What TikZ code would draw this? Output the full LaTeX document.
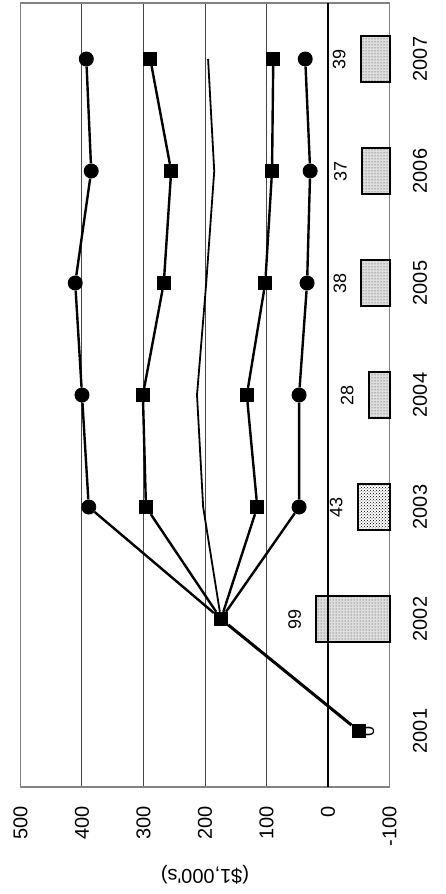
\documentclass[tikz,border=0pt]{standalone}
\usepackage{fontspec}
\setmainfont{Liberation Sans}
\usepackage{tikz}
\usetikzlibrary{patterns}
\definecolor{framegray}{RGB}{130,130,130}
\definecolor{gridgray}{RGB}{70,70,70}
\definecolor{barfill}{RGB}{222,222,222}
\tikzstyle{dotmark} = [circle, fill=black, inner sep=0pt, minimum size=15pt]
\tikzstyle{boxmark} = [rectangle, fill=black, inner sep=0pt, minimum size=14pt]
\tikzstyle{series} = [line width=2.4pt]
\tikzstyle{gridline} = [line width=1pt, draw=gridgray]
\tikzstyle{bar} = [draw=black, line width=2pt, preaction={fill=barfill}, pattern=dots, pattern color=black!80]
\tikzstyle{bar2} = [draw=black, line width=2pt, preaction={fill=white}, pattern=crosshatch dots, pattern color=black]
\tikzstyle{yearlabel} = [rotate=90, inner sep=0pt, font=\fontsize{20}{24}\selectfont]
\tikzstyle{ticklabel} = [rotate=90, anchor=east, inner sep=0pt, font=\fontsize{20}{24}\selectfont]
\tikzstyle{barlabel} = [rotate=90, anchor=south, inner sep=0pt, font=\fontsize{18}{22}\selectfont]
\newcommand{\vx}[1]{328-0.615*#1}
\newcommand{\bx}[1]{389.5-0.74*#1}

\begin{document}
\begin{tikzpicture}[x=1pt,y=-1pt]
\useasboundingbox (0,0) rectangle (446,894);
% grid and frame
\draw[gridline] ({\vx{400}},3) -- ({\vx{400}},787);
\draw[gridline] ({\vx{300}},3) -- ({\vx{300}},787);
\draw[gridline] ({\vx{200}},3) -- ({\vx{200}},787);
\draw[gridline] ({\vx{100}},3) -- ({\vx{100}},787);
\draw[line width=1.5pt, framegray] (20.5,3) rectangle (389.5,787);

% bars
\draw[bar] ({\bx{99}},596) rectangle (389.5,642);
\draw[bar2] ({\bx{43}},484) rectangle (389.5,530);
\draw[bar] ({\bx{28}},372) rectangle (389.5,418);
\draw[bar] ({\bx{38}},260) rectangle (389.5,306);
\draw[bar] ({\bx{37}},148) rectangle (389.5,194);
\draw[bar] ({\bx{39}},36) rectangle (389.5,82);
\draw[line width=2.5pt] (328,3) -- (328,787);
\node (v01) [barlabel] at ({\bx{0}-15},731) {0};
\node (v02) [barlabel] at ({\bx{99}-15},619) {99};
\node (v03) [barlabel] at ({\bx{43}-15},507) {43};
\node (v04) [barlabel] at ({\bx{28}-15},395) {28};
\node (v05) [barlabel] at ({\bx{38}-15},283) {38};
\node (v06) [barlabel] at ({\bx{37}-15},171) {37};
\node (v07) [barlabel] at ({\bx{39}-15},59) {39};

% markers
\node (p01) [boxmark] at ({\vx{-50}},731) {};
\node (p02) [boxmark] at ({\vx{174}},619) {};
\node (a03) [dotmark] at ({\vx{389}},507) {};
\node (a04) [dotmark] at ({\vx{400}},395) {};
\node (a05) [dotmark] at ({\vx{411}},283) {};
\node (a06) [dotmark] at ({\vx{385}},171) {};
\node (a07) [dotmark] at ({\vx{393}},59) {};
\node (b03) [boxmark] at ({\vx{296}},507) {};
\node (b04) [boxmark] at ({\vx{301}},395) {};
\node (b05) [boxmark] at ({\vx{267}},283) {};
\node (b06) [boxmark] at ({\vx{255}},171) {};
\node (b07) [boxmark] at ({\vx{289}},59) {};
\coordinate (c03) at ({\vx{203}},507);
\coordinate (c04) at ({\vx{213}},395);
\coordinate (c05) at ({\vx{198}},283);
\coordinate (c06) at ({\vx{185}},171);
\coordinate (c07) at ({\vx{195}},59);
\node (d03) [boxmark] at ({\vx{115}},507) {};
\node (d04) [boxmark] at ({\vx{132}},395) {};
\node (d05) [boxmark] at ({\vx{102}},283) {};
\node (d06) [boxmark] at ({\vx{91}},171) {};
\node (d07) [boxmark] at ({\vx{89}},59) {};
\node (e03) [dotmark] at ({\vx{47}},507) {};
\node (e04) [dotmark] at ({\vx{47}},395) {};
\node (e05) [dotmark] at ({\vx{34}},283) {};
\node (e06) [dotmark] at ({\vx{29}},171) {};
\node (e07) [dotmark] at ({\vx{37}},59) {};

% lines
\draw[series, line width=3pt] (p01) -- (p02);
\draw[series] (p02) -- (a03) -- (a04) -- (a05) -- (a06) -- (a07);
\draw[series] (p02) -- (b03) -- (b04) -- (b05) -- (b06) -- (b07);
\draw[series, line width=1.8pt] (p02) -- (c03) -- (c04) -- (c05) -- (c06) -- (c07);
\draw[series] (p02) -- (d03) -- (d04) -- (d05) -- (d06) -- (d07);
\draw[series] (p02) -- (e03) -- (e04) -- (e05) -- (e06) -- (e07);

% axis texts
\node (t500) [ticklabel] at ({\vx{500}},806) {500};
\node (t400) [ticklabel] at ({\vx{400}},806) {400};
\node (t300) [ticklabel] at ({\vx{300}},806) {300};
\node (t200) [ticklabel] at ({\vx{200}},806) {200};
\node (t100) [ticklabel] at ({\vx{100}},806) {100};
\node (t0) [ticklabel] at ({\vx{0}},806) {0};
\node (tm100) [ticklabel] at ({\vx{-100}},806) {-100};
\node (unit) [rotate=180, font=\fontsize{20}{24}\selectfont] at (205,875) {(\$1,000\textquotesingle s)};
\node (y2001) [yearlabel] at (420,731) {2001};
\node (y2002) [yearlabel] at (420,619) {2002};
\node (y2003) [yearlabel] at (420,507) {2003};
\node (y2004) [yearlabel] at (420,395) {2004};
\node (y2005) [yearlabel] at (420,283) {2005};
\node (y2006) [yearlabel] at (420,171) {2006};
\node (y2007) [yearlabel] at (420,59) {2007};
\end{tikzpicture}
\end{document}
